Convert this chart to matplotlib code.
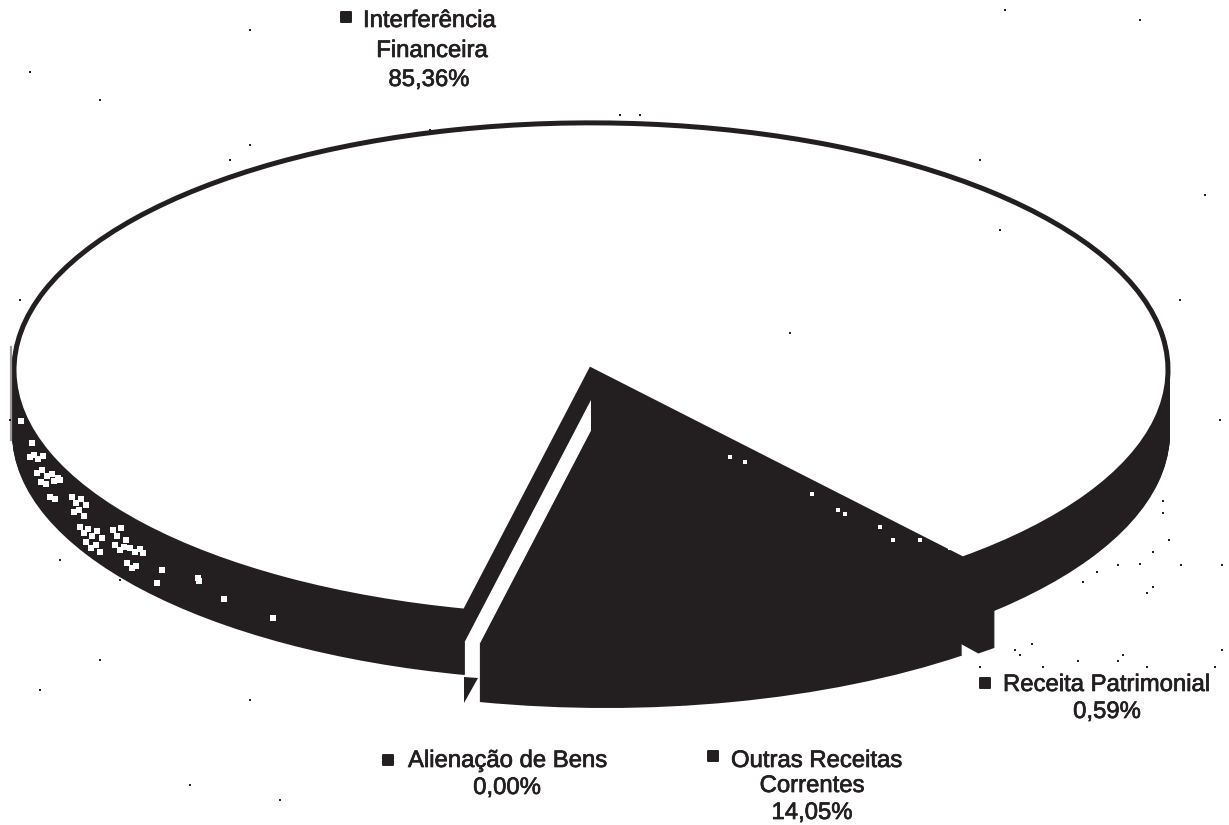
import matplotlib
matplotlib.use("Agg")
import matplotlib.pyplot as plt

# --- data ---
categories = ["Interferência\nFinanceira", "Alienação de Bens", "Outras Receitas\nCorrentes", "Receita Patrimonial"]
values = [85.36, 0.00, 14.05, 0.59]
value_labels = ["85,36%", "0,00%", "14,05%", "0,59%"]
back_face_values = [11.14, 88.86]

# --- style / geometry (pixels) ---
W, H = 1229, 825
INK = "#231f20"
RX, RY = 579.0, 248.0
SY = RY / RX
CX, CY = 591.0, 370.0
DEPTH = 58
MAIN_DEPTH = 63
START = -49.9

def yd(py):
    return (H - py) / SY

fig = plt.figure(figsize=(W / 100, H / 100), dpi=100, facecolor="white")
ax = fig.add_axes([0, 0, 1, 1])

def slab(colors, cx, top, depth, step=1, vals=values, start=START, **wp):
    kw = dict(linewidth=0)
    kw.update(wp)
    for d in range(0, depth + 1, step):
        ax.pie(vals, colors=colors, center=(cx, yd(top + d)), radius=RX,
               startangle=start, counterclock=True, wedgeprops=kw, normalize=True)

only_main = [INK, "none", "none", "none"]
only_cut = ["none", "none", "white", "white"]
only_cut_black = ["none", "none", INK, INK]
only_other = ["none", "none", INK, "none"]
only_rec = ["none", "none", "none", INK]

# side wall of the large slice
slab(only_main, CX, CY, MAIN_DEPTH)
# cut face where the slices were pulled out
slab(only_cut_black, CX, CY, 0)
slab(only_cut, CX, 400, 66)
ax.pie(back_face_values, colors=[INK, "none"], center=(CX, yd(CY)), radius=RX,
       startangle=-90, wedgeprops=dict(linewidth=0), normalize=True)
# pulled-out slices
slab(only_other, 606, 402, DEPTH)
slab(only_rec, 622, 400, DEPTH)
# top of the large slice
wedges, _ = ax.pie(values, colors=["white", "none", "none", "none"], center=(CX, yd(CY)), radius=RX - 2,
                   startangle=START, normalize=True, wedgeprops=dict(linewidth=0))
wedges[0].set_edgecolor(INK)
wedges[0].set_linewidth(3.6)

ax.set_aspect("auto")
ax.set_xlim(0, W)
ax.set_ylim(0, H / SY)
ax.axis("off")

# small leftover sliver at the foot of the cut
ax.fill([464, 478, 464], [yd(677), yd(678), yd(703)], color=INK, lw=0)
# grey scan edge on the far left
ax.plot([11, 11], [yd(347), yd(440)], color="#9a9a9a", lw=1.6, zorder=1)

# scan mottling on the left wall
mottle_x = [21, 32, 30, 34, 38, 43, 37, 42, 47, 52, 58, 41, 46, 54, 60, 50, 55, 72, 76, 81, 86, 74, 79, 84,
            80, 84, 88, 92, 97, 102, 86, 91, 96, 100, 113, 117, 121, 126, 115, 120, 124, 130, 135, 140, 143,
            127, 132, 136, 157, 162, 198, 199, 224, 273]
mottle_y = [421, 443, 457, 455, 459, 456, 473, 470, 476, 474, 478, 482, 484, 481, 480, 497, 499, 497, 503, 499, 505, 512, 510, 516,
            527, 533, 529, 536, 531, 538, 542, 548, 545, 552, 530, 536, 528, 540, 545, 550, 547, 548, 552, 549, 553,
            563, 568, 566, 583, 570, 578, 581, 599, 618]
ax.scatter(mottle_x, [yd(v) for v in mottle_y], s=22, c="white", linewidths=0, marker="s", zorder=5)

# specks in the dark slice
speck_x = [730, 745, 812, 838, 845, 880, 920, 950, 893]
speck_y = [457, 462, 494, 510, 514, 527, 540, 548, 540]
ax.scatter(speck_x, [yd(v) for v in speck_y], s=5, c="white", linewidths=0, marker="s", zorder=5)

# scan dust on the background
dust_x = [1163, 1163, 1169, 1153, 1118, 1140, 1181, 1222, 1097, 1083, 1153, 1147, 1015, 1020, 1032, 1078, 1118, 1123,
          1147, 1215, 1043, 980, 1222, 790, 30, 100, 250, 1140, 1005, 1205, 1220, 1180, 250, 230, 20, 10, 60, 120,
          100, 40, 250, 190, 280, 620, 640, 430, 980, 1000]
dust_y = [501, 513, 540, 552, 565, 564, 565, 565, 572, 582, 587, 593, 650, 655, 644, 661, 661, 655,
          667, 667, 667, 667, 650, 333, 72, 100, 30, 20, 10, 195, 420, 300, 145, 160, 300, 420, 560, 580,
          660, 690, 700, 785, 800, 115, 115, 130, 160, 230]
ax.scatter(dust_x, [yd(v) for v in dust_y], s=4, c=INK, linewidths=0, marker="s", zorder=2)

# legend-like labels
FONT = dict(family="Liberation Sans", fontsize=17.2, color=INK, va="center")

def lab(s, x, y, ha="center"):
    t = fig.text(x / W, 1 - y / H, s, ha=ha, **FONT)
    t.set_path_effects([matplotlib.patheffects.withStroke(linewidth=0.5, foreground=INK)])

import matplotlib.patheffects
name = [c.split("\n") for c in categories]
lab(name[0][0], 363, 21, "left")
lab(name[0][1], 432, 51)
lab(value_labels[0], 429, 80)
lab(name[1][0], 408, 761, "left")
lab(value_labels[1], 507, 788)
lab(name[2][0], 731, 761, "left")
lab(name[2][1], 812, 786)
lab(value_labels[2], 812, 813)
lab(name[3][0], 1003, 685, "left")
lab(value_labels[3], 1107, 712)

ax.scatter([346, 388, 713, 985], [yd(v) for v in [17, 760, 756, 683]], s=48, marker="s", c=INK,
           edgecolors=INK, linewidths=1.4, zorder=6)

fig.savefig("out.png", dpi=100, facecolor="white")
